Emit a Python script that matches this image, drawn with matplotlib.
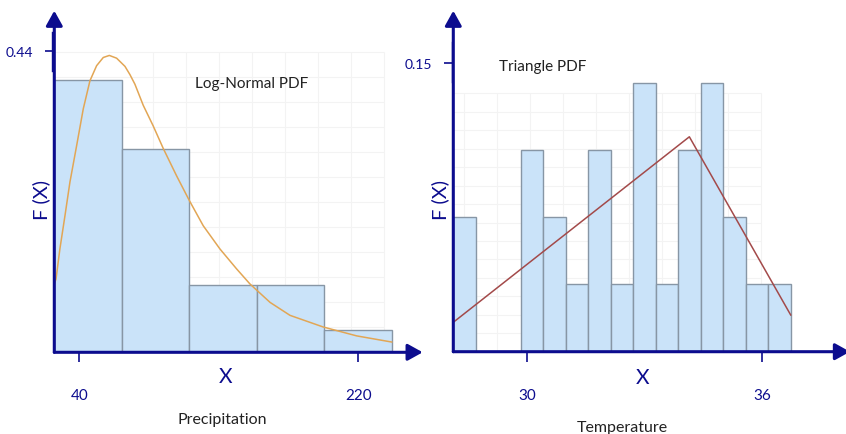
import matplotlib
matplotlib.use('Agg')
import matplotlib.pyplot as plt
from matplotlib.patches import FancyArrowPatch
from matplotlib.lines import Line2D
import numpy as np

plt.rcParams['font.family'] = ['Lato', 'DejaVu Sans']

# left panel: precipitation histogram + log-normal pdf
precip_edges = [23.9, 67.4, 111.0, 154.5, 198.1, 241.6]
precip_heights = [0.398, 0.297, 0.099, 0.099, 0.033]
lognorm_x = [23.9, 25.0, 27.5, 30.8, 34.0, 38.3, 42.6, 46.9, 51.2, 55.5, 59.4,
             64.1, 69.5, 72.7, 75.9, 81.3, 87.7, 94.2, 102.8, 111.0, 120.0,
             130.8, 141.5, 150.1, 163.1, 176.0, 197.4, 219.0, 241.6]
lognorm_y = [0.100, 0.107, 0.151, 0.200, 0.249, 0.302, 0.356, 0.397, 0.419, 0.431, 0.434,
             0.430, 0.418, 0.406, 0.392, 0.361, 0.331, 0.298, 0.258, 0.222, 0.185,
             0.151, 0.122, 0.100, 0.073, 0.054, 0.037, 0.024, 0.015]
precip_xticks = [40, 220]
precip_yticks = [0.44]

# right panel: temperature histogram + triangle pdf
temp_edges = [28.13, 28.70, 29.27, 29.85, 30.42, 30.99, 31.56, 32.14,
              32.71, 33.28, 33.86, 34.43, 35.00, 35.58, 36.15, 36.72]
temp_heights = [0.07, 0.0, 0.0, 0.105, 0.07, 0.035, 0.105, 0.035,
                0.14, 0.035, 0.105, 0.14, 0.07, 0.035, 0.035]
triangle_x = [28.13, 34.14, 36.72]
triangle_y = [0.0153, 0.1118, 0.0191]
temp_xticks = [30, 36]
temp_yticks = [0.15]

NAVY = '#0c0c8e'
BAR = '#cae3f9'
BAR_EDGE = '#8796a5'
GRID = '#f3f3f3'
W, H = 846, 435

fig = plt.figure(figsize=(W / 100, H / 100), dpi=100)


def fx(px):
    return px / W


def fy(py):
    return 1 - py / H


def make_axes(x0, y0, x1, y1):
    # box given in picture pixels, top-left origin
    return fig.add_axes([fx(x0), fy(y1), (x1 - x0) / W, (y1 - y0) / H])


def draw_panel(ax, edges, heights, xlim, ylim, xticks, yticks,
               grid_x, grid_y):
    ax.set_xlim(*xlim)
    ax.set_ylim(*ylim)
    for s in ax.spines.values():
        s.set_visible(False)
    ax.set_facecolor('none')

    # faint grid behind the bars
    ax.vlines(grid_x, 0, grid_y[-1], color=GRID, lw=0.8, zorder=0)
    ax.hlines(grid_y, xlim[0], grid_x[-1], color=GRID, lw=0.8, zorder=0)

    ax.bar(edges[:-1], heights, width=np.diff(edges), align='edge',
           color=BAR, edgecolor=BAR_EDGE, linewidth=1, zorder=2)

    ax.set_xticks(xticks)
    ax.set_xticklabels([str(t) for t in xticks])
    ax.set_yticks(yticks)
    ax.set_yticklabels([f'{t:.2f}' for t in yticks])
    ax.tick_params(axis='x', direction='out', length=7, width=1.2, color=NAVY,
                   labelcolor=NAVY, labelsize=11, pad=19)
    ax.tick_params(axis='y', direction='out', length=6.5, width=1.2, color=NAVY,
                   labelcolor=NAVY, labelsize=10, pad=9)

    # axis arrows
    for a, b in [((0, 0), (1, 0)), ((0, 0), (0, 1))]:
        ax.add_patch(FancyArrowPatch(a, b, transform=ax.transAxes,
                                     arrowstyle='-|>,head_length=9,head_width=5',
                                     mutation_scale=1, lw=2.2, color=NAVY,
                                     clip_on=False, shrinkA=0, shrinkB=0,
                                     zorder=5))


# ---- left: precipitation ----
ax1 = make_axes(54.3, 11.7, 422.7, 353.3)
draw_panel(ax1, precip_edges, precip_heights,
           (23.9, 261.6), (0, 0.4994), precip_xticks, precip_yticks,
           np.arange(87.5, 242, 21.3), np.arange(0.0366, 0.44, 0.0366))
ax1.plot(lognorm_x, lognorm_y, color='#e2a655', lw=1.1, zorder=3,
         solid_joinstyle='round')
ax1.text(151, 0.394, 'Log-Normal PDF', fontsize=11, ha='center', va='center',
         color='#222222', zorder=4)

# ---- right: temperature ----
ax2 = make_axes(453.3, 11.7, 850, 352.7)
draw_panel(ax2, temp_edges, temp_heights,
           (28.13, 38.23), (0, 0.1774), temp_xticks, temp_yticks,
           np.arange(28.4, 36.8, 0.84), np.arange(0.0096, 0.143, 0.0096))
ax2.plot(triangle_x, triangle_y, color='#a34a4a', lw=1.1, zorder=3)
ax2.text(30.4, 0.1487, 'Triangle PDF', fontsize=11, ha='center', va='center',
         color='#222222', zorder=4)

# small doubled segments beside the y axes
fig.add_artist(Line2D([fx(52.3)] * 2, [fy(33), fy(72)], color=NAVY, lw=1))
fig.add_artist(Line2D([fx(452.0)] * 2, [fy(43), fy(83)], color=NAVY, lw=1))

# axis titles
fig.text(fx(41.7), fy(200), 'F (X)', rotation=90, fontsize=14.5, color=NAVY,
         ha='center', va='center')
fig.text(fx(440.5), fy(200), 'F (X)', rotation=90, fontsize=14.5, color=NAVY,
         ha='center', va='center')
fig.text(fx(226), fy(377.5), 'X', fontsize=15, color=NAVY, ha='center', va='center')
fig.text(fx(642.5), fy(378), 'X', fontsize=15, color=NAVY, ha='center', va='center')
fig.text(fx(222.7), fy(420), 'Precipitation', fontsize=11.5, color='#222222',
         ha='center', va='center')
fig.text(fx(622), fy(428), 'Temperature', fontsize=11.5, color='#222222',
         ha='center', va='center')

fig.savefig('out.png', dpi=100)
